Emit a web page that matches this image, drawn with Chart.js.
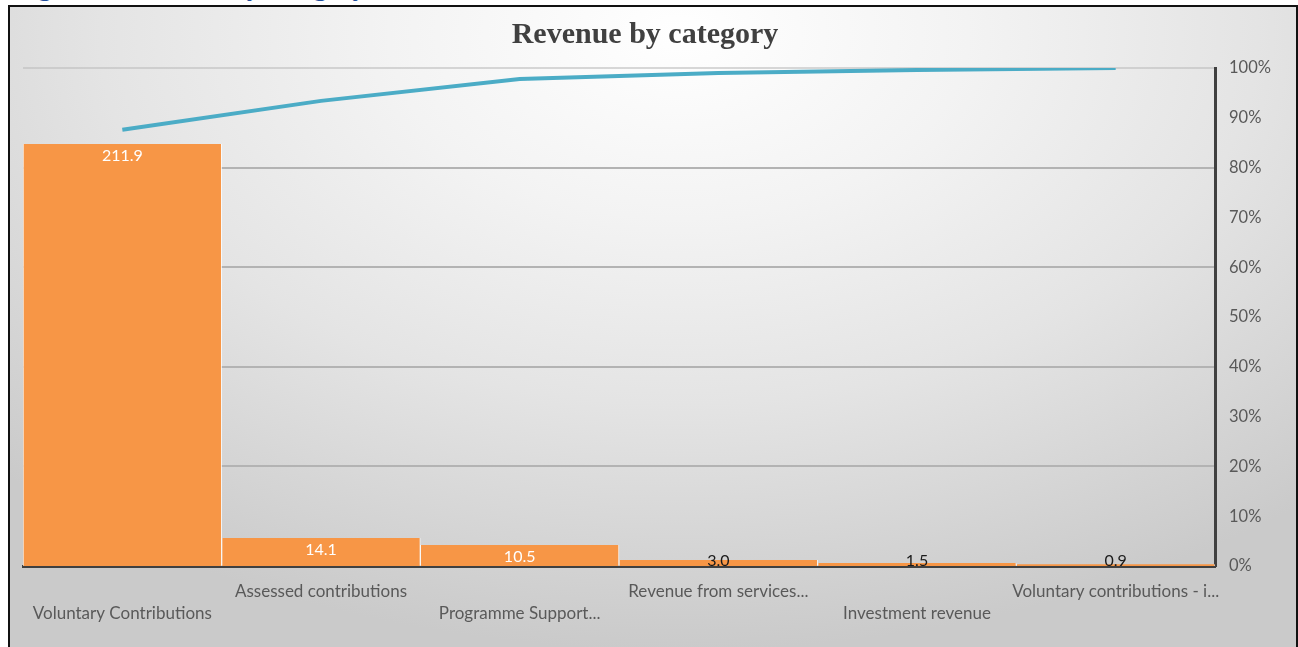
<!DOCTYPE html>
<html>
<head>
<meta charset="utf-8">
<script src="https://cdn.jsdelivr.net/npm/chart.js@4"></script>
<style>
    html, body { margin: 0; padding: 0; background: #fff; overflow: hidden; }
    body { width: 1298px; height: 647px; position: relative; }
    .caption {
        position: absolute; left: 14px; top: -27px; margin: 0;
        font: bold 27px "Liberation Serif", serif; line-height: 27px;
        color: #1f4e9c; white-space: nowrap;
    }
    .frame {
        position: absolute; left: 8px; top: 5px; width: 1286px; height: 650px;
        border: 2px solid #111;
        background: radial-gradient(ellipse 75% 95% at 52% 4%, #ffffff 0%, #f3f3f3 30%, #e4e4e4 60%, #cacaca 100%);
    }
    canvas { display: block; }
</style>
</head>
<body>
<p class="caption">Figure 3: Revenue by category</p>
<div class="frame">
    <canvas id="paretoChart" width="1286" height="640"></canvas>
</div>
<script>
// values (USD millions), sorted high to low
const categories = [
    'Voluntary Contributions',
    'Assessed contributions',
    'Programme Support...',
    'Revenue from services...',
    'Investment revenue',
    'Voluntary contributions - i...',
];
const revenue = [211.9, 14.1, 10.5, 3.0, 1.5, 0.9];
const cumulativePct = [87.6, 93.4, 97.8, 99.0, 99.6, 100];
const pctTicks = [0, 10, 20, 30, 40, 50, 60, 70, 80, 90, 100];

const barColor = '#f79646';
const lineColor = '#4bacc6';
const textGrey = '#595959';
const labelFont = '"Lato", "Open Sans", sans-serif';

// Excel style value labels, inside end of the bar (dark when the bar is too small)
const barLabels = {
    id: 'barLabels',
    afterDatasetsDraw(chart) {
        const meta = chart.getDatasetMeta(1);
        const ctx = chart.ctx;
        const base = chart.scales.y.getPixelForValue(0);
        ctx.save();
        ctx.font = `16px ${labelFont}`;
        ctx.textAlign = 'center';
        ctx.textBaseline = 'top';
        meta.data.forEach((bar, i) => {
            const y = Math.min(bar.y + 4, base - 13);
            ctx.fillStyle = i < 3 ? '#ffffff' : '#1a1a1a';
            ctx.fillText(revenue[i].toFixed(1), bar.x, y);
        });
        ctx.restore();
    },
};

new Chart(document.getElementById('paretoChart'), {
    data: {
        labels: categories,
        datasets: [
            {
                type: 'line',
                label: 'Cumulative %',
                data: cumulativePct,
                yAxisID: 'y2',
                borderColor: lineColor,
                borderWidth: 4,
                pointRadius: 0,
                tension: 0,
                order: 0,
            },
            {
                type: 'bar',
                label: 'Revenue',
                data: revenue,
                yAxisID: 'y',
                backgroundColor: barColor,
                borderColor: 'rgba(255,255,255,0.75)',
                borderWidth: { left: 1, right: 1 },
                barPercentage: 1,
                categoryPercentage: 1,
                order: 1,
            },
        ],
    },
    options: {
        responsive: false,
        animation: false,
        layout: { padding: { left: 0, right: 16, top: 0, bottom: 0 } },
        plugins: {
            legend: { display: false },
            tooltip: { enabled: false },
            title: {
                display: true,
                text: 'Revenue by category',
                color: '#404040',
                font: { family: '"Liberation Serif", serif', size: 30, weight: 'bold' },
                padding: { top: 10, bottom: 15 },
            },
        },
        scales: {
            x: {
                grid: { display: false, drawTicks: false },
                border: { display: true, color: '#404040', width: 3 },
                ticks: {
                    color: textGrey,
                    font: { family: labelFont, size: 17, lineHeight: '22px' },
                    padding: 15,
                    maxRotation: 0,
                    autoSkip: false,
                    callback(value, index) {
                        const label = categories[index];
                        return index % 2 === 0 ? ['', label] : label;
                    },
                },
                afterFit(scale) { scale.height = 81; },
            },
            y: {
                min: 0,
                max: 250,
                grid: { display: false, drawTicks: false },
                border: { display: false },
                ticks: { display: false },
                afterFit(scale) { scale.width = 13; },
            },
            y2: {
                position: 'right',
                min: 0,
                max: 100,
                afterBuildTicks(scale) {
                    scale.ticks = pctTicks.map(v => ({ value: v }));
                },
                grid: {
                    drawTicks: false,
                    color(ctx) {
                        const v = ctx.tick ? ctx.tick.value : 0;
                        if (v === 100) return 'rgba(190,190,190,0.6)';
                        return v > 0 && v % 20 === 0 ? '#b3b3b3' : 'transparent';
                    },
                    lineWidth: 2,
                },
                border: { display: true, color: '#404040', width: 3 },
                ticks: {
                    color: textGrey,
                    font: { family: labelFont, size: 16.5 },
                    padding: 14,
                    callback: v => `${v}%`,
                },
                afterFit(scale) { scale.width = 65; },
            },
        },
    },
    plugins: [barLabels],
});
</script>
</body>
</html>
